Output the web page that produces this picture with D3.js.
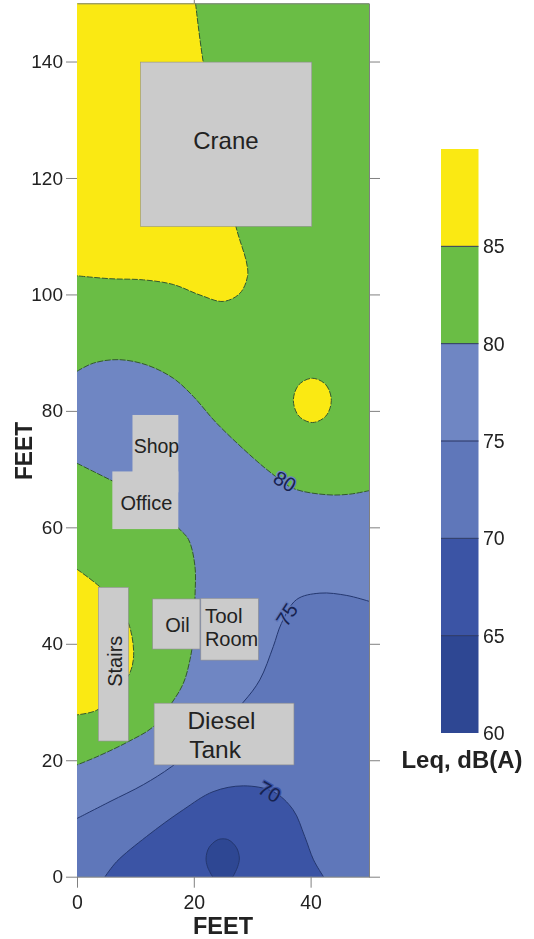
<!DOCTYPE html>
<html><head><meta charset="utf-8">
<script src="https://cdn.jsdelivr.net/npm/d3@7"></script>
<style>html,body{margin:0;padding:0;background:#fff}svg{display:block;filter:blur(0.35px)}text{font-family:"Liberation Sans",Arial,sans-serif;fill:#222}</style>
</head><body><svg id="c" width="534" height="939"></svg>
<script>
// contour lines, in feet [x, y]
const contour85Top=[[20.3,150],[21.6,140],[24.5,125],[27.2,111.7],[29.05,105.4],[29.2,103.1],[27.9,100.2],[25.05,98.8],[21.06,99.9],[16.5,101.7],[11.4,102.5],[5.65,102.7],[0,103.2]];
const contour85Left=[[0,52.8],[3.9,49.8],[7.5,46],[9,43],[9.7,38],[9,34.9],[6.5,31.5],[3.4,28.6],[0,27.8]];
const contour85Spot=[[40.3,85.6],[42.6,84.5],[43.55,81.8],[42.6,79.1],[40.3,78],[38,79.1],[37.05,81.8],[38,84.5]];
const contour80Upper=[[0,86.8],[2.8,88.2],[7.1,88.8],[11.9,87.9],[16.5,85.6],[19.9,82.5],[23.9,77.9],[30.2,71.9],[33.3,69.3],[37,66.7],[42.8,65.6],[46.7,65.7],[50,66.3]];
const contour80Lower=[[0,71],[3,69.5],[6,68],[11,65.5],[15,62.5],[17.35,59.9],[19.1,57.9],[20.2,53.3],[20.2,47.8],[20.1,42.5],[19.35,37.3],[18.2,33.2],[16.2,29.8],[13.1,25.8],[8.8,23.2],[3.4,20.6],[0,19.2]];
const contour75=[[0,10],[5.65,12.9],[11.35,15.8],[16.2,18.9],[22.5,24],[28.5,30],[31.3,33.8],[33.6,39.5],[35,43.5],[37.6,47.6],[41.6,48.7],[46.2,48.3],[50,47.3]];
const contour70=[[4.8,0],[6.8,2.6],[11.9,6.9],[18.2,11.5],[23.3,14.6],[28.5,15.6],[33.6,14.6],[37,11.5],[39,6.9],[40.5,2.9],[42.2,0]];
const contour65=[[23.2,0],[22.35,1.7],[22.1,3.2],[22.6,5],[24,6.3],[25,6.5],[26,6.3],[27.3,5],[27.8,3.2],[27.5,1.7],[26.7,0]];

// buildings, in feet
const buildingNames=["Crane","Shop","Office","Stairs","Oil","Tool Room","Diesel Tank"];
const buildingX0=[10.9,9.5,6.05,3.65,12.95,21.2,13.2];
const buildingX1=[40.2,17.35,17.35,8.8,21.05,31.05,37.15];
const buildingY0=[111.7,66,59.7,23.3,39.1,37.2,19.2];
const buildingY1=[139.9,79.3,69.6,49.7,47.7,47.8,29.8];

// legend
const levels=[60,65,70,75,80,85,90];
const levelColors=["#2e4793","#3b54a5","#5f77ba","#6f86c3","#6abd45","#fae913"];
const xTicks=[0,20,40];
const yTicks=[0,20,40,60,80,100,120,140];
const legendTicks=[60,65,70,75,80,85];

const svg=d3.select("#c");
const x=d3.scaleLinear().domain([0,50]).range([77,369]);
const y=d3.scaleLinear().domain([0,150]).range([876.7,3.3]);
const z=d3.scaleLinear().domain([60,90]).range([733,149]);
const curve=d3.line().x(d=>x(d[0])).y(d=>y(d[1])).curve(d3.curveCatmullRom.alpha(0.5));
const closed=d3.line().x(d=>x(d[0])).y(d=>y(d[1])).curve(d3.curveCatmullRomClosed.alpha(0.5));
const cont=(pts)=>curve(pts).replace(/^M/,"L");
const pt=(a,b)=>`L${x(a)},${y(b)}`;

svg.append("rect").attr("x",x(0)).attr("y",y(150)).attr("width",x(50)-x(0)).attr("height",y(0)-y(150)).attr("fill",levelColors[4]);
const regions=[
 [curve(contour85Top)+pt(0,150)+"Z",levelColors[5]],
 [curve(contour80Upper)+pt(50,0)+pt(0,0)+cont(contour80Lower.slice().reverse())+"Z",levelColors[3]],
 [curve(contour85Left)+"Z",levelColors[5]],
 [closed(contour85Spot),levelColors[5]],
 [curve(contour75)+pt(50,0)+pt(0,0)+"Z",levelColors[2]],
 [curve(contour70)+"Z",levelColors[1]],
 [curve(contour65)+"Z",levelColors[0]]
];
svg.append("g").selectAll("path").data(regions).join("path").attr("d",d=>d[0]).attr("fill",d=>d[1]);

const dashed=[curve(contour85Top),curve(contour85Left),closed(contour85Spot),curve(contour80Upper),curve(contour80Lower)];
const solid=[curve(contour75),curve(contour70),curve(contour65)];
svg.append("g").selectAll("path").data(dashed).join("path").attr("d",d=>d).attr("fill","none").attr("stroke","#33582f").attr("stroke-width",1).attr("stroke-dasharray","6 1.5");
svg.append("g").selectAll("path").data(solid).join("path").attr("d",d=>d).attr("fill","none").attr("stroke","#24376f").attr("stroke-width",1);

// contour labels
const contourLabels=[{t:"80",v:[35.6,67.9],r:30,c:levelColors[3]},{t:"75",v:[35.9,45],r:-57,c:levelColors[2]},{t:"70",v:[33,14.6],r:30,c:levelColors[1]}];
svg.append("g").selectAll("text").data(contourLabels).join("text")
 .attr("transform",d=>`translate(${x(d.v[0])},${y(d.v[1])}) rotate(${d.r})`)
 .attr("text-anchor","middle").attr("dy","0.36em").attr("font-size",20)
 .style("fill","#16224f").attr("stroke",d=>d.c).attr("stroke-width",2.5).attr("paint-order","stroke").text(d=>d.t);

// buildings
svg.append("g").selectAll("rect").data(buildingNames.map((n,i)=>i)).join("rect")
 .attr("x",i=>x(buildingX0[i])).attr("width",i=>x(buildingX1[i])-x(buildingX0[i]))
 .attr("y",i=>y(buildingY1[i])).attr("height",i=>y(buildingY0[i])-y(buildingY1[i]))
 .attr("fill","#cbcbcb").attr("stroke",i=>(i===1||i===2)?"none":"#8f8f8f").attr("stroke-width",0.6);

// building text
const buildingText=[
 {t:"Crane",v:[25.5,126.5],s:24,a:"middle"},
 {t:"Shop",v:[13.6,73.9],s:19.5,a:"middle"},
 {t:"Office",v:[11.9,64.2],s:20,a:"middle"},
 {t:"Oil",v:[17.2,43.2],s:20,a:"middle"},
 {t:"Tool",v:[21.9,44.8],s:20.5,a:"start"},
 {t:"Room",v:[21.9,40.8],s:20,a:"start"},
 {t:"Diesel",v:[18.9,26.8],s:24.5,a:"start"},
 {t:"Tank",v:[19.2,21.9],s:24.5,a:"start"}
];
svg.append("g").selectAll("text").data(buildingText).join("text")
 .attr("x",d=>x(d.v[0])).attr("y",d=>y(d.v[1])).attr("dy","0.36em")
 .attr("text-anchor",d=>d.a).attr("font-size",d=>d.s).text(d=>d.t);
svg.append("text").attr("transform",`translate(${x(6.4)},${y(37)}) rotate(-90)`).attr("text-anchor","middle").attr("dy","0.36em").attr("font-size",20).text("Stairs");

// axes
function style(g,size){
 g.selectAll(".domain,line").attr("stroke","#808080");
 g.selectAll("text").attr("font-size",size).attr("font-family",'"Liberation Sans",Arial,sans-serif').style("fill","#222");
}
svg.append("g").attr("transform",`translate(${x(0)},0)`).call(d3.axisLeft(y).tickValues(yTicks).tickSize(11).tickSizeOuter(0).tickPadding(3)).call(style,19).call(g=>g.select(".domain").remove());
svg.append("g").attr("transform",`translate(${x(50)},0)`).call(d3.axisRight(y).tickValues(yTicks).tickSize(11).tickSizeOuter(0).tickFormat("")).call(style,19);
svg.append("g").attr("transform",`translate(0,${y(0)})`).call(d3.axisBottom(x).tickValues(xTicks).tickSize(11).tickSizeOuter(0).tickPadding(7)).call(style,19.5);
svg.append("g").attr("transform",`translate(0,${y(150)})`).call(d3.axisTop(x).tickValues([20]).tickSize(4).tickSizeOuter(0).tickFormat("")).call(style,19);

svg.append("text").attr("x",223).attr("y",934).attr("text-anchor","middle").attr("font-size",23).attr("font-weight","bold").attr("textLength",60).attr("lengthAdjust","spacingAndGlyphs").text("FEET");
svg.append("text").attr("transform","translate(32,451) rotate(-90)").attr("text-anchor","middle").attr("font-size",23).attr("font-weight","bold").attr("textLength",58).attr("lengthAdjust","spacingAndGlyphs").text("FEET");

// colour bar
const bands=levelColors.map((c,i)=>({c,a:levels[i],b:levels[i+1]}));
svg.append("g").selectAll("rect").data(bands).join("rect").attr("x",441).attr("width",37.5)
 .attr("y",d=>z(d.b)).attr("height",d=>z(d.a)-z(d.b)).attr("fill",d=>d.c);
svg.append("g").selectAll("line").data(levels.slice(1,6)).join("line").attr("x1",441).attr("x2",478.5)
 .attr("y1",d=>z(d)).attr("y2",d=>z(d)).attr("stroke","#2a3560").attr("stroke-width",1);
svg.append("g").selectAll("text").data(legendTicks).join("text").attr("x",483).attr("y",d=>z(d)).attr("dy","0.36em").attr("font-size",19.5).text(d=>d);
svg.append("text").attr("x",462).attr("y",768).attr("text-anchor","middle").attr("font-size",23).attr("font-weight","bold").attr("textLength",121).attr("lengthAdjust","spacingAndGlyphs").text("Leq, dB(A)");
</script></body></html>
